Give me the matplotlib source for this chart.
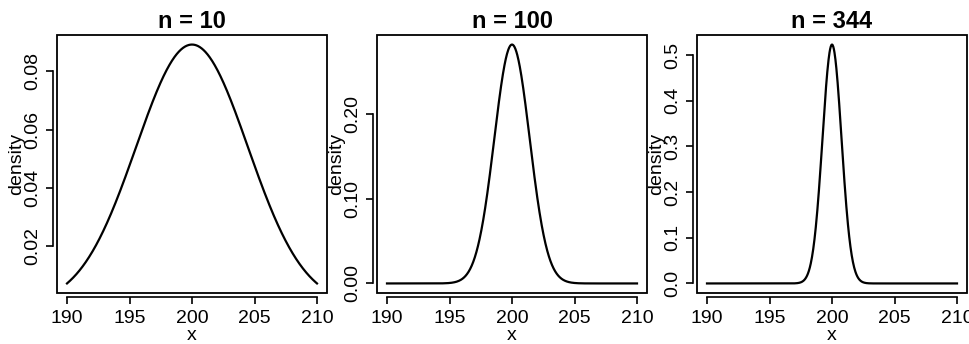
import numpy as np
import matplotlib
matplotlib.use("Agg")
import matplotlib.pyplot as plt
from matplotlib.patches import Rectangle

plt.rcParams['font.family'] = ['Liberation Sans', 'DejaVu Sans']

# normal approximation: mean 200, variance 200/n
sample_sizes = [10, 100, 344]
mean_value = 200
variance = 200
x_range = (190, 210)
x_ticks = [190, 195, 200, 205, 210]
y_ticks = [
    [0.02, 0.04, 0.06, 0.08],
    [0.00, 0.10, 0.20],
    [0.0, 0.1, 0.2, 0.3, 0.4, 0.5],
]
y_tick_fmt = ["{:.2f}", "{:.2f}", "{:.1f}"]

W, H = 969, 344
fig = plt.figure(figsize=(W / 100, H / 100), dpi=100)

# panel boxes in pixels (left), top / bottom shared
lefts = [57, 377, 697]
box_w = 270
top, bottom = 35, 293

x = np.linspace(x_range[0], x_range[1], 801)

for i, n in enumerate(sample_sizes):
    ax = fig.add_axes([lefts[i] / W, (H - bottom) / H, box_w / W, (bottom - top) / H])
    sd = np.sqrt(variance / n)
    y = np.exp(-0.5 * ((x - mean_value) / sd) ** 2) / (sd * np.sqrt(2 * np.pi))
    ax.plot(x, y, color="black", lw=1.6)

    # R-style 4% padding
    xpad = 0.04 * (x_range[1] - x_range[0])
    ax.set_xlim(x_range[0] - xpad, x_range[1] + xpad)
    ypad = 0.04 * (y.max() - y.min())
    ax.set_ylim(y.min() - ypad, y.max() + ypad)

    ax.set_xticks(x_ticks)
    ax.set_xticklabels([str(t) for t in x_ticks])
    ax.set_yticks(y_ticks[i])
    ax.set_yticklabels([y_tick_fmt[i].format(t) for t in y_ticks[i]])

    # detached axis lines, box drawn separately
    for side in ["top", "right"]:
        ax.spines[side].set_visible(False)
    ax.spines["left"].set_position(("outward", 3))
    ax.spines["bottom"].set_position(("outward", 3))
    ax.spines["left"].set_bounds(y_ticks[i][0], y_ticks[i][-1])
    ax.spines["bottom"].set_bounds(x_ticks[0], x_ticks[-1])
    for side in ["left", "bottom"]:
        ax.spines[side].set_linewidth(1.2)
    ax.add_patch(Rectangle((0, 0), 1, 1, transform=ax.transAxes, fill=False,
                           edgecolor="black", lw=1.3, clip_on=False, zorder=5))

    ax.tick_params(axis="both", direction="out", length=5, width=1.2,
                   labelsize=14, colors="black")
    ax.tick_params(axis="x", pad=4)
    ax.tick_params(axis="y", pad=3, labelrotation=90)
    for lab in ax.get_yticklabels():
        lab.set_va("center")

    ax.set_title("n = %d" % n, fontsize=17, fontweight="bold", pad=5)
    ax.set_xlabel("x", fontsize=14, va="center")
    ax.xaxis.set_label_coords(0.5, (bottom - 336) / (bottom - top))
    ax.set_ylabel("density", fontsize=14, va="center")
    ax.yaxis.set_label_coords(-40 / box_w, 0.5)

fig.savefig("out.png", dpi=100)
